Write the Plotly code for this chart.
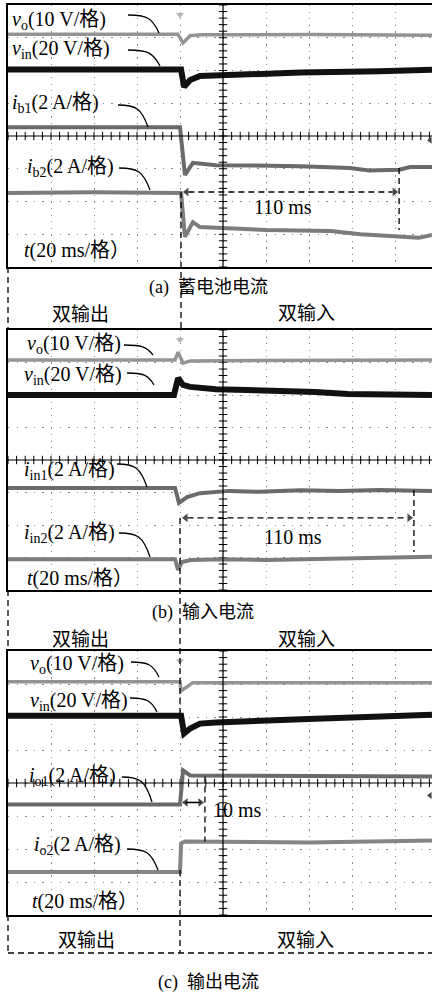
import numpy as np
import plotly.graph_objects as go

W, H = 432, 993
def X(px): return px / W
def Y(py): return 1 - py / H

# ---------------- data (time in ms, 0 = mode switch; amplitude in divisions) -------------
# Panel (a) battery currents
TA_VO = [-80, -1, 1.4, 4.7, 10, 60, 117.2]
A_VO = [3.11, 3.11, 2.84, 3.06, 3.09, 3.10, 3.08]
TA_VIN = [-80, -30, 0.5, 1.9, 4.7, 9.3, 20, 56, 93, 117.2]
A_VIN = [2.03, 2.04, 2.03, 1.50, 1.71, 1.83, 1.86, 1.94, 1.98, 2.02]
TA_IB1 = [-80, -40, 0, 2.3, 6.0, 16.7, 56, 79, 88, 102, 107, 117.2]
A_IB1 = [0.27, 0.28, 0.27, -1.19, -0.82, -0.89, -0.92, -0.98, -1.05, -1.03, -0.95, -0.95]
TA_IB2 = [-80, -40, 0.5, 2.3, 6.0, 9.3, 40, 70, 84, 102, 111, 117.2]
A_IB2 = [-1.74, -1.72, -1.74, -3.08, -2.63, -2.78, -2.87, -2.90, -3.00, -3.08, -3.11, -3.02]

# Panel (b) input currents
TB_VO = [-80, -2.3, -0.9, 1.4, 4.7, 117.2]
B_VO = [3.08, 3.08, 3.32, 2.98, 3.05, 3.08]
TB_VIN = [-80, -2.8, -0.9, 1.4, 4.7, 16.7, 63, 78, 117.2]
B_VIN = [2.0, 2.0, 2.52, 2.31, 2.25, 2.18, 2.09, 2.03, 2.0]
TB_IN1 = [-80, -2.3, -0.5, 3.3, 9.3, 23, 37, 56, 74, 93, 117.2]
B_IN1 = [-0.86, -0.86, -1.32, -1.14, -1.02, -0.95, -0.98, -0.93, -0.95, -0.92, -0.95]
TB_IN2 = [-80, -2.3, -0.9, 0.9, 5, 20, 40, 80, 117.2]
B_IN2 = [-3.05, -3.05, -3.38, -3.14, -3.08, -3.05, -3.08, -3.03, -2.98]

# Panel (c) output currents
TC_VO = [-80, 0, 0.5, 6.0, 117.2]
C_VO = [3.07, 3.07, 2.79, 3.04, 3.04]
TC_VIN = [-80, 0.5, 1.9, 4.7, 9.3, 16.7, 63, 93, 117.2]
C_VIN = [2.04, 2.04, 1.50, 1.65, 1.80, 1.83, 1.95, 2.01, 2.07]
TC_IO1 = [-80, 0, 1.4, 4.7, 117.2]
C_IO1 = [-0.65, -0.65, 0.38, 0.23, 0.20]
TC_IO2 = [-80, 0, 0.5, 2.3, 60, 117.2]
C_IO2 = [-2.70, -2.70, -1.83, -1.77, -1.80, -1.74]

# timing arrows: (t_start, t_end, level, marker-line top, marker-line bottom)
ARROW_A = (0.9, 101.9, -1.71, -0.98, -2.87)
ARROW_B = (0.5, 108.8, -1.78, -0.92, -2.83)
ARROW_C = (0.5, 11.6, -0.59, 0.20, -1.77)

XR = [-80, 117.2]
YR = [-4, 4]

# screen positions (pixel top, bottom)
PANELS = [(5, 267), (330, 590), (651, 915)]

FONT = "Liberation Serif, 'Noto Sans CJK SC', serif"
CJK = "'Noto Sans CJK SC', sans-serif"

fig = go.Figure()

traces = [
    [(TA_VO, A_VO, "#949494", 3.5), (TA_VIN, A_VIN, "#111111", 6),
     (TA_IB1, A_IB1, "#6a6a6a", 4), (TA_IB2, A_IB2, "#7c7c7c", 4)],
    [(TB_VO, B_VO, "#949494", 3.5), (TB_VIN, B_VIN, "#111111", 6),
     (TB_IN1, B_IN1, "#6a6a6a", 4), (TB_IN2, B_IN2, "#7c7c7c", 4)],
    [(TC_VO, C_VO, "#949494", 3.5), (TC_VIN, C_VIN, "#111111", 6),
     (TC_IO1, C_IO1, "#6a6a6a", 4), (TC_IO2, C_IO2, "#858585", 4)],
]

shapes = []
annotations = []

for i, (top, bot) in enumerate(PANELS):
    n = i + 1
    xa = "x" if n == 1 else f"x{n}"
    ya = "y" if n == 1 else f"y{n}"
    xk = "xaxis" if n == 1 else f"xaxis{n}"
    yk = "yaxis" if n == 1 else f"yaxis{n}"
    div_px = (bot - top) / 8.0
    fig.update_layout(**{
        xk: dict(domain=[X(8), 1], range=XR, anchor=ya, tick0=-80, dtick=20,
                 showgrid=True, gridcolor="#8a8a8a", gridwidth=1.3,
                 griddash=f"1.3px,{div_px/5-1.3:.2f}px",
                 showticklabels=False, ticks="", zeroline=False,
                 showline=True, linecolor="black", linewidth=1.5, mirror=True,
                 fixedrange=True),
        yk: dict(domain=[Y(bot), Y(top)], range=YR, anchor=xa, tick0=-4, dtick=1,
                 showgrid=True, gridcolor="#8a8a8a", gridwidth=1.3,
                 griddash=f"1.3px,{43/5-1.3:.2f}px",
                 showticklabels=False, ticks="", zeroline=False,
                 showline=True, linecolor="black", linewidth=1.5, mirror=False,
                 fixedrange=True),
    })
    # centre cross lines
    shapes.append(dict(type="line", xref=xa, yref=ya, x0=XR[0], x1=XR[1], y0=0, y1=0,
                       line=dict(color="black", width=1.2)))
    shapes.append(dict(type="line", xref=xa, yref=ya, x0=20, x1=20, y0=YR[0], y1=YR[1],
                       line=dict(color="black", width=1.2)))
    tx = np.arange(-80, 117.3, 4.0)
    fig.add_trace(go.Scatter(x=tx, y=np.zeros_like(tx), mode="markers", xaxis=xa, yaxis=ya,
                             marker=dict(symbol="line-ns", size=6, line=dict(width=1, color="black")),
                             hoverinfo="skip", showlegend=False))
    ty = np.arange(-4, 4.001, 0.2)
    fig.add_trace(go.Scatter(x=np.full_like(ty, 20), y=ty, mode="markers", xaxis=xa, yaxis=ya,
                             marker=dict(symbol="line-ew", size=6, line=dict(width=1, color="black")),
                             hoverinfo="skip", showlegend=False))
    for (t, v, c, w) in traces[i]:
        fig.add_trace(go.Scatter(x=t, y=v, mode="lines", xaxis=xa, yaxis=ya,
                                 line=dict(color=c, width=w), hoverinfo="skip", showlegend=False))
    # trigger marker at top
    fig.add_trace(go.Scatter(x=[0], y=[3.7], mode="markers", xaxis=xa, yaxis=ya,
                             marker=dict(symbol="triangle-down", size=7, color="#b5b5b5"),
                             hoverinfo="skip", showlegend=False))

    # timing arrows
    t0, t1, lev, vtop, vbot = [ARROW_A, ARROW_B, ARROW_C][i]
    if i < 2:
        shapes.append(dict(type="line", xref=xa, yref=ya, x0=t0 + 3, x1=t1 - 3, y0=lev, y1=lev,
                           line=dict(color="black", width=1.3, dash="6px,4px")))
    else:
        shapes.append(dict(type="line", xref=xa, yref=ya, x0=t0 + 2, x1=t1 - 2, y0=lev, y1=lev,
                           line=dict(color="black", width=1.6)))
    fig.add_trace(go.Scatter(x=[t0 + 2.2, t1 - 2.2], y=[lev, lev], mode="markers",
                             xaxis=xa, yaxis=ya,
                             marker=dict(symbol=["triangle-left", "triangle-right"],
                                         size=[9, 9], color="black"),
                             hoverinfo="skip", showlegend=False))
    shapes.append(dict(type="line", xref=xa, yref=ya, x0=t1, x1=t1, y0=vtop, y1=vbot,
                       line=dict(color="black", width=1.3, dash="6px,4px")))

# ground markers on right edge
fig.add_trace(go.Scatter(x=[116.3], y=[-0.13], mode="markers", xaxis="x", yaxis="y",
                         marker=dict(symbol="triangle-left", size=6, color="#444"),
                         hoverinfo="skip", showlegend=False))
fig.add_trace(go.Scatter(x=[116.3], y=[-0.38], mode="markers", xaxis="x3", yaxis="y3",
                         marker=dict(symbol="triangle-left", size=6, color="#444"),
                         hoverinfo="skip", showlegend=False))

# ---------------- labels ----------------
def lab(text, x, y, size=20):
    annotations.append(dict(text=text, x=X(x), y=Y(y), xref="paper", yref="paper",
                            xanchor="left", yanchor="middle", showarrow=False,
                            font=dict(family=FONT, size=size, color="black")))

def ctext(text, x, y, size=19, fam=FONT):
    annotations.append(dict(text=text, x=X(x), y=Y(y), xref="paper", yref="paper",
                            xanchor="center", yanchor="middle", showarrow=False,
                            font=dict(family=fam, size=size, color="black")))

def leader(p0, p2):
    (x0, y0), (x2, y2) = p0, p2
    c1x, c1y = x0 + 0.6 * (x2 - x0), y0
    c2x, c2y = x2 - 0.22 * (x2 - x0), y0 + 0.15 * (y2 - y0)
    path = (f"M {X(x0):.5f},{Y(y0):.5f} "
            f"C {X(c1x):.5f},{Y(c1y):.5f} {X(c2x):.5f},{Y(c2y):.5f} {X(x2):.5f},{Y(y2):.5f}")
    shapes.append(dict(type="path", xref="paper", yref="paper", path=path,
                       line=dict(color="black", width=1.3)))

VO = "<i>v</i><sub>o</sub>(10 V/格)"
VIN = "<i>v</i><sub>in</sub>(20 V/格)"
TT = "<i>t</i>(20 ms/格）"

# panel a
lab(VO, 10, 20); leader((128, 15), (159, 33))
lab(VIN, 10, 50); leader((128, 50), (160, 66))
lab("<i>i</i><sub>b1</sub>(2 A/格)", 10, 104); leader((118, 105), (148, 127))
lab("<i>i</i><sub>b2</sub>(2 A/格)", 25, 167); leader((119, 168), (150, 190))
lab(TT, 22, 250)
ctext("110 ms", 283, 207, 20)
# panel b
lab(VO, 25, 344); leader((124, 345), (153, 355))
lab(VIN, 22, 375); leader((127, 373), (154, 385))
lab("<i>i</i><sub>in1</sub>(2 A/格)", 22, 471); leader((117, 464), (147, 487))
lab("<i>i</i><sub>in2</sub>(2 A/格)", 22, 533); leader((119, 533), (150, 557))
lab(TT, 25, 578)
ctext("110 ms", 293, 537, 20)
# panel c
lab(VO, 28, 664); leader((131, 662), (159, 677))
lab(VIN, 28, 701); leader((130, 698), (157, 712))
lab("<i>i</i><sub>o1</sub>(2 A/格)", 27, 776); leader((122, 777), (152, 802))
lab("<i>i</i><sub>o2</sub>(2 A/格)", 32, 845); leader((127, 849), (158, 870))
lab(TT, 30, 901)
ctext("10 ms", 237, 810, 20)

# captions and mode labels
ctext("(a)\u2002蓄电池电流", 208, 287, 18)
ctext("双输出", 80, 312, 19, CJK)
ctext("双输入", 306, 311, 19, CJK)
ctext("(b)\u2002输入电流", 203, 612, 18)
ctext("双输出", 80, 637, 19, CJK)
ctext("双输入", 306, 637, 19, CJK)
ctext("双输出", 86, 938, 19, CJK)
ctext("双输入", 305, 938, 19, CJK)
ctext("(c)\u2002输出电流", 208, 982, 18)

# dashed frame lines between screens
def pdash(x0, y0, x1, y1):
    shapes.append(dict(type="line", xref="paper", yref="paper",
                       x0=X(x0), y0=Y(y0), x1=X(x1), y1=Y(y1),
                       line=dict(color="black", width=1.3, dash="6px,4px")))

pdash(8, 267, 8, 330)
pdash(8, 590, 8, 651)
pdash(8, 915, 8, 953)
pdash(181, 192, 181, 330)
pdash(180, 518, 180, 718)
pdash(180, 870, 180, 953)
pdash(8, 953, 432, 953)

fig.update_layout(width=W, height=H, margin=dict(l=0, r=0, t=0, b=0),
                  paper_bgcolor="white", plot_bgcolor="white",
                  showlegend=False, shapes=shapes, annotations=annotations)

fig.write_html("out.html")
